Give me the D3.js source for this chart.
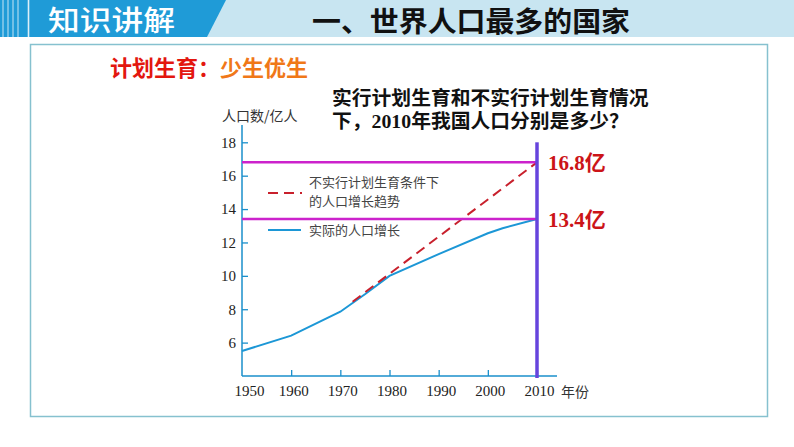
<!DOCTYPE html>
<html><head><meta charset="utf-8">
<script src="https://cdn.jsdelivr.net/npm/d3@7"></script>
<style>
html,body{margin:0;padding:0;background:#fff;}
svg{display:block;}
</style></head>
<body>
<svg id="chart" width="794" height="447"></svg>
<script>
// ---- data ----
const xTicks = [1950, 1960, 1970, 1980, 1990, 2000, 2010];
const yTicks = [6, 8, 10, 12, 14, 16, 18];
const actualYears = [1950, 1960, 1970, 1975, 1980, 1990, 2000, 2003, 2010];
const actualValues = [5.5, 6.42, 7.85, 8.9, 10.0, 11.3, 12.55, 12.85, 13.4];
const trendYears = [1972.5, 2010];
const trendValues = [8.45, 16.8];
const markValues = [16.8, 13.4];
const markLabels = ["16.8亿", "13.4亿"];
const legendLabels = [["不实行计划生育条件下", "的人口增长趋势"], ["实际的人口增长"]];

const svg = d3.select("#chart");
const serif = "'Liberation Serif','Times New Roman','Noto Sans CJK SC',serif";
const cjk = "'Noto Sans CJK SC','Noto Sans',sans-serif";

// ---- header ----
svg.append("rect").attr("x",0).attr("y",0).attr("width",794).attr("height",37).attr("fill","#c8e5f1");
svg.append("path").attr("d","M0,0 L226,0 L207,37 L0,37 Z").attr("fill","#1f9bd7");
[3,8,13,18].forEach(x=>svg.append("line").attr("x1",x).attr("x2",x).attr("y1",0).attr("y2",37)
  .attr("stroke","#ffffff").attr("stroke-opacity",0.75).attr("stroke-width",1));
svg.append("line").attr("x1",28.5).attr("x2",28.5).attr("y1",0).attr("y2",37)
  .attr("stroke","#ffffff").attr("stroke-opacity",0.85).attr("stroke-width",1.6);
svg.append("text").attr("x",48).attr("y",31).attr("fill","#fff")
  .style("font-family",cjk).style("font-size","28px").style("font-weight","500")
  .attr("textLength",127).attr("lengthAdjust","spacingAndGlyphs").text("知识讲解");
svg.append("text").attr("x",312).attr("y",32).attr("fill","#111")
  .style("font-family",cjk).style("font-size","28px").style("font-weight","700")
  .attr("textLength",318).attr("lengthAdjust","spacingAndGlyphs").text("一、世界人口最多的国家");

// frame
svg.append("rect").attr("x",30.5).attr("y",44.5).attr("width",737).attr("height",372)
  .attr("fill","none").attr("stroke","#86c1cf").attr("stroke-width",1.5);

// subtitle
const sub = svg.append("text").attr("x",110).attr("y",76)
  .style("font-family",cjk).style("font-size","22px").style("font-weight","700");
sub.append("tspan").attr("fill","#e3170f").text("计划生育：");
sub.append("tspan").attr("fill","#f07818").text("少生优生");

// question
const q = svg.append("g").style("font-family",serif).style("font-size","19.8px").style("font-weight","700").attr("fill","#111");
q.append("text").attr("x",332).attr("y",105).text("实行计划生育和不实行计划生育情况");
q.append("text").attr("x",332).attr("y",128).text("下，2010年我国人口分别是多少？");

// ---- chart ----
const x = d3.scaleLinear().domain([1950, 2010]).range([242, 537]);
const y = d3.scaleLinear().domain([4, 18]).range([376, 142.3]);
const axisColor = "#1a8fcb";

// y axis
const yAxis = svg.append("g").attr("transform","translate(242,0)")
  .call(d3.axisRight(y).tickValues(yTicks).tickSize(6).tickFormat(d3.format("d")));
yAxis.select(".domain").remove();
yAxis.selectAll(".tick line").attr("stroke",axisColor).attr("stroke-width",1.3);
yAxis.selectAll(".tick text").attr("x",-6).attr("text-anchor","end")
  .style("font-family",serif).style("font-size","15px").attr("fill","#222");
svg.append("line").attr("x1",242).attr("x2",242).attr("y1",125).attr("y2",y(4))
  .attr("stroke",axisColor).attr("stroke-width",1.5);

// x axis
const xAxis = svg.append("g").attr("transform",`translate(0,${y(4)})`)
  .call(d3.axisTop(x).tickValues(xTicks).tickSize(6).tickFormat(d3.format("d")));
xAxis.select(".domain").remove();
xAxis.selectAll(".tick line").attr("stroke",axisColor).attr("stroke-width",1.3)
  .style("display",(d,i)=> i===0 ? "none" : null);
xAxis.selectAll(".tick text").attr("y",20).attr("dy",0)
  .attr("dx",(d,i)=> i===0 ? 7 : 2)
  .style("font-family",serif).style("font-size","15px").attr("fill","#222");
svg.append("line").attr("x1",242).attr("x2",557).attr("y1",y(4)).attr("y2",y(4))
  .attr("stroke",axisColor).attr("stroke-width",1.5);

// axis titles
svg.append("text").attr("x",222).attr("y",121).attr("fill","#333")
  .style("font-family",cjk).style("font-size","14px").text("人口数/亿人");
svg.append("text").attr("x",561).attr("y",397).attr("fill","#333")
  .style("font-family",cjk).style("font-size","14px").text("年份");

// actual line
const line = d3.line().x(d=>x(d[0])).y(d=>y(d[1]));
svg.append("path").datum(actualYears.map((t,i)=>[t,actualValues[i]]))
  .attr("d",line).attr("fill","none").attr("stroke","#1c97d6").attr("stroke-width",2);

// trend dashed
svg.append("path").datum(trendYears.map((t,i)=>[t,trendValues[i]]))
  .attr("d",line).attr("fill","none").attr("stroke","#c8202c").attr("stroke-width",2)
  .attr("stroke-dasharray","10,6");

// magenta marker lines
svg.selectAll(".mark").data(markValues).enter().append("line")
  .attr("x1",x(1950)).attr("x2",x(2010)).attr("y1",d=>y(d)).attr("y2",d=>y(d))
  .attr("stroke","#cc22cc").attr("stroke-width",2.5);

// purple vertical
svg.append("line").attr("x1",x(2010)).attr("x2",x(2010)).attr("y1",y(18)).attr("y2",y(4)+2)
  .attr("stroke","#6644dd").attr("stroke-width",3.5);

// mark labels
svg.selectAll(".mlab").data(markValues).enter().append("text")
  .attr("x",548).attr("y",d=>y(d)+8).text((d,i)=>markLabels[i])
  .style("font-family",serif).style("font-size","21px").style("font-weight","700").attr("fill","#cc1418");

// legend
svg.append("line").attr("x1",268).attr("x2",302).attr("y1",193).attr("y2",193)
  .attr("stroke","#c8202c").attr("stroke-width",2).attr("stroke-dasharray","10,6");
svg.append("line").attr("x1",268).attr("x2",301).attr("y1",230).attr("y2",230)
  .attr("stroke","#1c97d6").attr("stroke-width",2);
const lg = svg.append("g").style("font-family",cjk).style("font-size","13px").attr("fill","#444");
lg.append("text").attr("x",309).attr("y",187).text(legendLabels[0][0]);
lg.append("text").attr("x",309).attr("y",205.5).text(legendLabels[0][1]);
lg.append("text").attr("x",309).attr("y",235).text(legendLabels[1][0]);
</script>
</body></html>
